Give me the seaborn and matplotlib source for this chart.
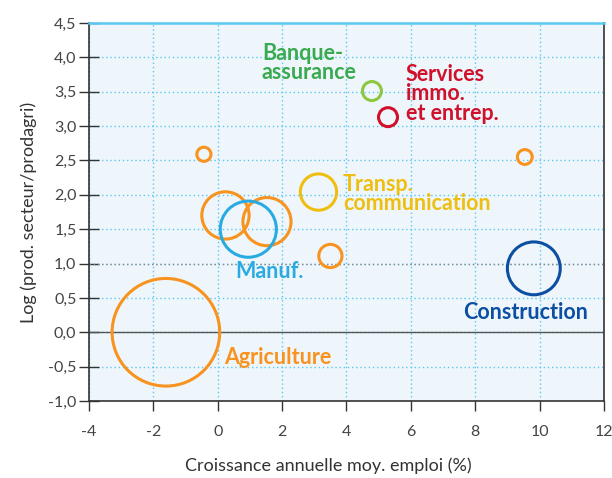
import matplotlib
matplotlib.use("Agg")
import matplotlib.pyplot as plt
from matplotlib.ticker import FuncFormatter
import pandas as pd
import seaborn as sns

# Données
croissance_emploi = [-1.61, -0.43, 0.24, 1.53, 0.95, 3.50, 3.13, 4.79, 5.29, 9.54, 9.82]
log_productivite = [0.00, 2.59, 1.70, 1.61, 1.50, 1.11, 2.04, 3.51, 3.13, 2.55, 0.93]
poids = [2900, 50, 560, 580, 790, 135, 330, 90, 90, 55, 700]
groupe = ["autres", "autres", "autres", "autres", "manuf", "autres",
          "transp", "banque", "services", "autres", "construction"]

palette = {
    "autres": "#f7931e",
    "manuf": "#29abe2",
    "transp": "#eebf10",
    "banque": "#8dc63f",
    "services": "#d0112b",
    "construction": "#0c4ea2",
}

df = pd.DataFrame({"x": croissance_emploi, "y": log_productivite,
                   "poids": poids, "groupe": groupe})

sns.set_theme(style="white")
plt.rcParams["font.family"] = ["Lato", "DejaVu Sans"]

fig = plt.figure(figsize=(6.12, 4.78), dpi=100)
ax = fig.add_axes([0.1454, 0.1611, 0.8415, 0.7908])
ax.set_facecolor("#eef6fc")

# Grille pointillée bleu clair
ax.set_axisbelow(True)
ax.grid(True, color="#5bc8f0", linestyle=(0, (1, 2)), linewidth=1.0)
ax.axhline(0, color="#555555", linewidth=1.0, zorder=1)
ax.axhline(1, color="#888888", linestyle=(0, (1, 2)), linewidth=1.0, zorder=1)

smax = 2.07 * max(poids)
sns.scatterplot(data=df, x="x", y="y", hue="groupe", palette=palette,
                size="poids", sizes=(0, smax), size_norm=(0, max(poids)),
                legend=False, ax=ax, zorder=3)
pts = ax.collections[0]
pts.set_edgecolors(pts.get_facecolors())
pts.set_facecolor("none")
pts.set_linewidths(2.2)

# Étiquettes des secteurs
lab = dict(fontsize=15.5, fontweight="bold", va="center", ha="left",
           linespacing=0.92)
ax.text(1.37, 3.92, "Banque-\nassurance", color="#3aaa50", **lab)
ax.text(5.84, 3.47, "Services\nimmo.\net entrep.", color="#d0112b", **lab)
ax.text(3.89, 2.01, "Transp.\ncommunication", color="#eebf10", **lab)
ax.text(0.53, 0.88, "Manuf.", color="#29abe2", **lab)
ax.text(0.19, -0.36, "Agriculture", color="#f7931e", **lab)
ax.text(7.61, 0.29, "Construction", color="#0c4ea2", **lab)

ax.set_xlim(-4, 12)
ax.set_ylim(-1, 4.5)
ax.set_xticks(range(-4, 13, 2))
ax.set_yticks([-1 + 0.5 * i for i in range(12)])
ax.xaxis.set_major_formatter(FuncFormatter(lambda v, p: f"{v:.0f}".replace("\u2212", "-")))
ax.yaxis.set_major_formatter(FuncFormatter(lambda v, p: f"{v:.1f}".replace(".", ",")))
ax.tick_params(axis="x", direction="out", length=7, width=1, color="#333333",
               labelsize=11.5, labelcolor="#444444", pad=10, bottom=True)
ax.tick_params(axis="y", direction="inout", length=14, width=1, color="#333333",
               labelsize=11.5, labelcolor="#444444", pad=2, left=True)

for side in ["left", "bottom", "right"]:
    ax.spines[side].set_color("#333333")
    ax.spines[side].set_linewidth(1.2)
ax.spines["top"].set_color("#5bc8f0")
ax.spines["top"].set_linewidth(1.8)

ax.set_xlabel("Croissance annuelle moy. emploi (%)", fontsize=13,
              color="#333333")
ax.xaxis.set_label_coords(0.464, -0.15)
ax.set_ylabel("Log (prod. secteur/prodagri)", fontsize=13,
              color="#333333", labelpad=8)

fig.savefig("out.png", dpi=100)
